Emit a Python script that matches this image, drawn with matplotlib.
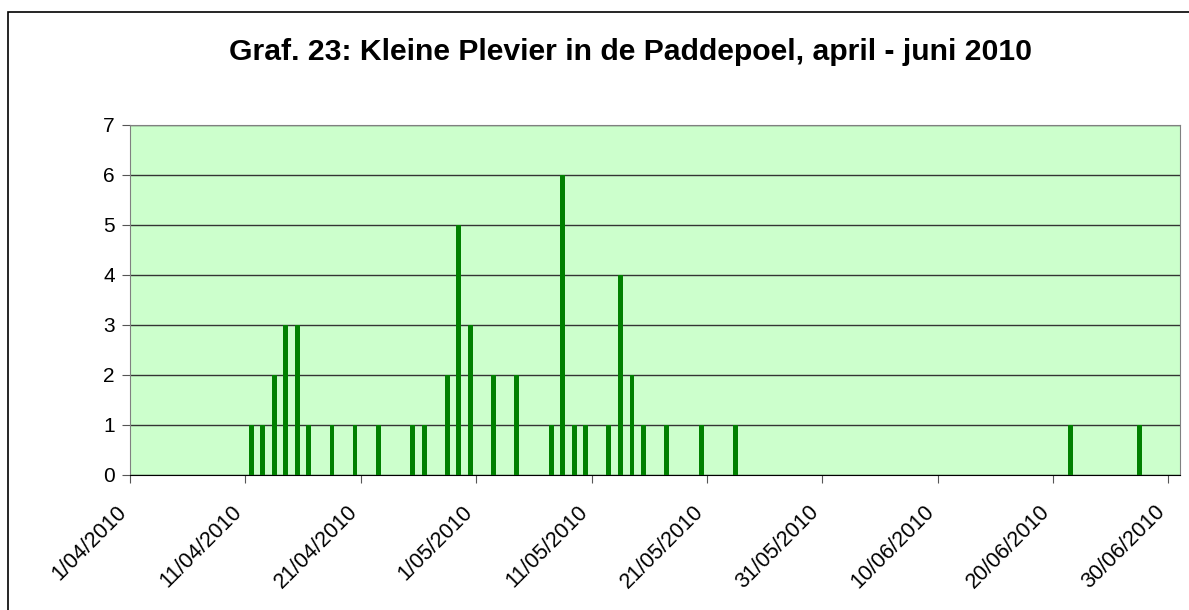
import datetime as dt
import numpy as np
import matplotlib.pyplot as plt
from matplotlib.patches import Rectangle

# counts of Kleine Plevier per date
dates = ['11/04', '12/04', '13/04', '14/04', '15/04', '16/04', '18/04', '20/04',
         '22/04', '25/04', '26/04', '28/04', '29/04', '30/04', '2/05', '4/05',
         '7/05', '8/05', '9/05', '10/05', '12/05', '13/05', '14/05', '15/05',
         '17/05', '20/05', '23/05', '21/06', '27/06']
counts = [1, 1, 2, 3, 3, 1, 1, 1,
          1, 1, 1, 2, 5, 3, 2, 2,
          1, 6, 1, 1, 1, 4, 2, 1,
          1, 1, 1, 1, 1]
tick_labels = ['1/04/2010', '11/04/2010', '21/04/2010', '1/05/2010', '11/05/2010',
               '21/05/2010', '31/05/2010', '10/06/2010', '20/06/2010', '30/06/2010']

plt.rcParams['font.family'] = ['Liberation Sans', 'DejaVu Sans']

start = dt.date(2010, 4, 1)


def day_offset(s):
    d, m = s.split('/')
    return (dt.date(2010, int(m), int(d)) - start).days


x = np.array([day_offset(d) for d in dates]) + 0.5
tick_pos = np.arange(0, 91, 10)

fig = plt.figure(figsize=(11.89, 6.10), dpi=100)
fig.patches.append(Rectangle((8 / 1189, -0.1), 1.2, 1 - 12 / 610 + 0.1,
                             transform=fig.transFigure, fill=False,
                             edgecolor='black', linewidth=1.2))
ax = fig.add_axes([130 / 1189, 1 - 475 / 610, 1050 / 1189, 350 / 610])
ax.set_facecolor('#CCFFCC')
ax.bar(x, counts, width=0.42, color='#008000', zorder=3)

ax.set_xlim(0, 91)
ax.set_ylim(0, 7)
ax.set_yticks(range(8))
ax.yaxis.grid(True, color='#333333', linewidth=1.0, zorder=1)
ax.set_xticks(tick_pos)
ax.set_xticklabels([])
# rotated date labels, ending just left of each tick
for pos, lab in zip(tick_pos, tick_labels):
    ax.annotate(lab, xy=(pos, 0), xycoords=('data', 'axes fraction'),
                xytext=(-10, -19), textcoords='offset points',
                rotation=45, ha='right', va='top', rotation_mode='anchor',
                fontsize=15.5, annotation_clip=False)
ax.tick_params(axis='y', labelsize=15, length=6, direction='out', color='#555555', pad=5)
ax.tick_params(axis='x', length=6, direction='out', color='#555555')
for s in ['top', 'right', 'left']:
    ax.spines[s].set_color('#808080')
ax.spines['bottom'].set_color('black')

fig.text(0.53, 1 - 52 / 610, 'Graf. 23: Kleine Plevier in de Paddepoel, april - juni 2010',
         ha='center', va='center', fontsize=21.7, fontweight='bold')

plt.savefig('out.png', dpi=100)
